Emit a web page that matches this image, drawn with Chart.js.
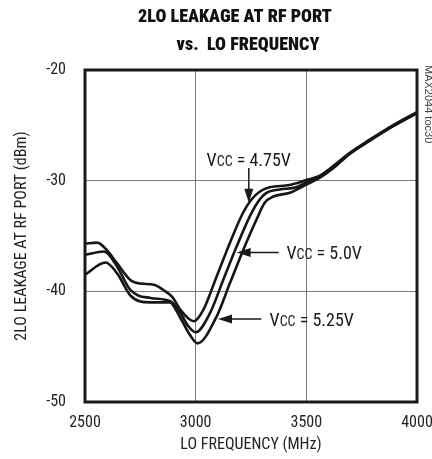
<!DOCTYPE html>
<html><head><meta charset="utf-8">
<script src="https://cdn.jsdelivr.net/npm/chart.js@4.4.1/dist/chart.umd.min.js"></script>
<style>html,body{margin:0;padding:0;background:#fff;overflow:hidden}canvas{display:block}</style>
</head><body>
<canvas id="c" width="432" height="459" style="width:432px;height:459px"></canvas>
<script>
// ---- data ----
const xTicks = [2500, 3000, 3500, 4000];
const yTicks = [-50, -40, -30, -20];
const seriesNames = ['VCC = 4.75V', 'VCC = 5.0V', 'VCC = 5.25V'];

const freq475 = [2500, 2555, 2600, 2646, 2706, 2751, 2811, 2856, 2894, 2932, 2970, 2992, 3034, 3094, 3154, 3214, 3252, 3289, 3334, 3425, 3500, 3556, 3620, 3695, 3786, 3891, 4000];
const val475  = [-35.7, -35.6, -36.3, -37.5, -39.0, -39.3, -39.4, -39.9, -40.5, -41.7, -42.5, -42.7, -41.7, -38.7, -35.65, -32.9, -31.7, -31.0, -30.6, -30.4, -29.95, -29.6, -28.7, -27.5, -26.3, -25.0, -23.8];

const freq50 = [2500, 2586, 2646, 2706, 2796, 2886, 2932, 2965, 3000, 3064, 3124, 3184, 3244, 3282, 3320, 3380, 3455, 3500, 3556, 3620, 3695, 3786, 3891, 4000];
const val50  = [-36.7, -36.4, -37.8, -39.9, -40.6, -40.9, -42.0, -43.1, -43.7, -42.0, -39.0, -36.0, -33.25, -31.9, -31.1, -30.8, -30.6, -30.15, -29.7, -28.8, -27.55, -26.35, -25.05, -23.85];

const freq525 = [2500, 2593, 2646, 2706, 2796, 2883, 2928, 2973, 3008, 3094, 3154, 3214, 3274, 3312, 3349, 3425, 3500, 3556, 3620, 3695, 3786, 3891, 4000];
const val525  = [-38.5, -37.4, -38.4, -40.4, -41.0, -41.0, -42.3, -43.9, -44.7, -42.3, -39.3, -36.3, -33.55, -32.0, -31.45, -31.1, -30.35, -29.8, -28.9, -27.6, -26.4, -25.1, -23.9];

const toPts = (xs, ys) => xs.map((x, i) => ({x: x, y: ys[i]}));

const NARROW = '"Liberation Sans Narrow", "Roboto Condensed", "DejaVu Sans Condensed", "Liberation Sans", sans-serif';

// ---- annotation plugin (labels with arrows) ----
const notes = [
  {text: ['V', 'CC', ' = 4.75V'], dir: 'down', tip: [3240, -32.0], tail: [3240, -28.85], label: [3240, -28.05], align: 'center'},
  {text: ['V', 'CC', ' = 5.0V'],  dir: 'left', tip: [3185, -36.5], tail: [3375, -36.5], label: [3410, -36.5], align: 'left'},
  {text: ['V', 'CC', ' = 5.25V'], dir: 'left', tip: [3101, -42.5], tail: [3297, -42.5], label: [3334, -42.5], align: 'left'}
];

const annot = {
  id: 'annot',
  afterDraw(chart) {
    const {ctx, scales: {x, y}, chartArea: a} = chart;
    ctx.save();
    // frame
    ctx.strokeStyle = '#1a1a1a';
    ctx.lineWidth = 3;
    ctx.strokeRect(a.left, a.top, a.right - a.left, a.bottom - a.top);

    // labels and arrows
    ctx.fillStyle = '#1a1a1a';
    ctx.strokeStyle = '#1a1a1a';
    notes.forEach(n => {
      const tx = x.getPixelForValue(n.tip[0]), ty = y.getPixelForValue(n.tip[1]);
      const lx = x.getPixelForValue(n.tail[0]), ly = y.getPixelForValue(n.tail[1]);
      ctx.lineWidth = 1.5;
      ctx.beginPath();
      ctx.moveTo(lx, ly);
      if (n.dir === 'down') ctx.lineTo(tx, ty - 10); else ctx.lineTo(tx + 10, ty);
      ctx.stroke();
      ctx.beginPath();
      if (n.dir === 'down') {
        ctx.moveTo(tx, ty); ctx.lineTo(tx - 4.5, ty - 14); ctx.lineTo(tx + 4.5, ty - 14);
      } else {
        ctx.moveTo(tx, ty); ctx.lineTo(tx + 14, ty - 4.5); ctx.lineTo(tx + 14, ty + 4.5);
      }
      ctx.closePath(); ctx.fill();

      // text: V, subscript CC, rest
      const big = '18px ' + NARROW, small = '14px ' + NARROW;
      ctx.textBaseline = 'alphabetic';
      ctx.textAlign = 'left';
      ctx.font = big; const w1 = ctx.measureText(n.text[0]).width;
      const w3 = ctx.measureText(n.text[2]).width;
      ctx.font = small; const w2 = ctx.measureText(n.text[1]).width;
      const total = w1 + w2 + w3;
      let px = x.getPixelForValue(n.label[0]);
      const py = y.getPixelForValue(n.label[1]) + 6.5;
      if (n.align === 'center') px -= total / 2;
      ctx.font = big; ctx.fillText(n.text[0], px, py);
      ctx.font = small; ctx.fillText(n.text[1], px + w1, py);
      ctx.font = big; ctx.fillText(n.text[2], px + w1 + w2, py);
    });

    // chart title (sized to the reference width)
    ctx.fillStyle = '#111';
    ctx.textAlign = 'center';
    ctx.textBaseline = 'middle';
    ctx.font = '900 20px ' + NARROW;
    const tw = ctx.measureText('2LO LEAKAGE AT RF PORT').width;
    const ts = Math.min(22, 20 * 194 / tw);
    ctx.font = '900 ' + ts.toFixed(1) + 'px ' + NARROW;
    ctx.fillText('2LO LEAKAGE AT RF PORT', 235, 17);
    ctx.fillText('vs.  LO FREQUENCY', 248, 45);

    // side code
    ctx.save();
    ctx.translate(428, 65);
    ctx.rotate(Math.PI / 2);
    ctx.textAlign = 'left';
    ctx.font = '11px "Liberation Sans", Arial, sans-serif';
    ctx.fillStyle = '#444';
    ctx.fillText('MAX2044 toc30', 0, 0);
    ctx.restore();
    ctx.restore();
  }
};

const lineStyle = {borderColor: '#161616', borderWidth: 2.6, pointRadius: 0, fill: false, cubicInterpolationMode: 'monotone'};

new Chart(document.getElementById('c'), {
  type: 'line',
  data: {
    datasets: [
      Object.assign({label: seriesNames[0], data: toPts(freq475, val475)}, lineStyle),
      Object.assign({label: seriesNames[1], data: toPts(freq50, val50)}, lineStyle),
      Object.assign({label: seriesNames[2], data: toPts(freq525, val525)}, lineStyle)
    ]
  },
  options: {
    responsive: false,
    animation: false,
    devicePixelRatio: 1,
    layout: {padding: {top: 70, right: 15, bottom: 0, left: 0}},
    plugins: {legend: {display: false}, tooltip: {enabled: false}, title: {display: false}},
    scales: {
      x: {
        type: 'linear', min: 2500, max: 4000,
        afterBuildTicks: s => { s.ticks = xTicks.map(v => ({value: v})); },
        afterFit: s => { s.height = 57; s.paddingLeft = 0; s.paddingRight = 0; },
        ticks: {callback: v => String(v), color: '#222', padding: 11, maxRotation: 0, font: {family: NARROW, size: 16}},
        grid: {drawTicks: false, lineWidth: 1, color: c => (c.tick && (c.tick.value === 2500 || c.tick.value === 4000)) ? 'rgba(0,0,0,0)' : '#7a7a7a'},
        border: {display: false},
        title: {display: true, text: 'LO FREQUENCY (MHz)', color: '#222', font: {family: NARROW, size: 16}, padding: {top: 0, bottom: 4}}
      },
      y: {
        min: -50, max: -20,
        afterBuildTicks: s => { s.ticks = yTicks.map(v => ({value: v})); },
        afterFit: s => { s.width = 85; s.paddingTop = 0; s.paddingBottom = 0; },
        ticks: {callback: v => String(v), color: '#222', padding: 19, font: {family: NARROW, size: 16}},
        grid: {drawTicks: false, lineWidth: 1, color: c => (c.tick && (c.tick.value === -50 || c.tick.value === -20)) ? 'rgba(0,0,0,0)' : '#7a7a7a'},
        border: {display: false},
        title: {display: true, text: '2LO LEAKAGE AT RF PORT (dBm)', color: '#222', font: {family: NARROW, size: 16}, padding: {top: 12, bottom: 0}}
      }
    }
  },
  plugins: [annot]
});
</script>
</body></html>
